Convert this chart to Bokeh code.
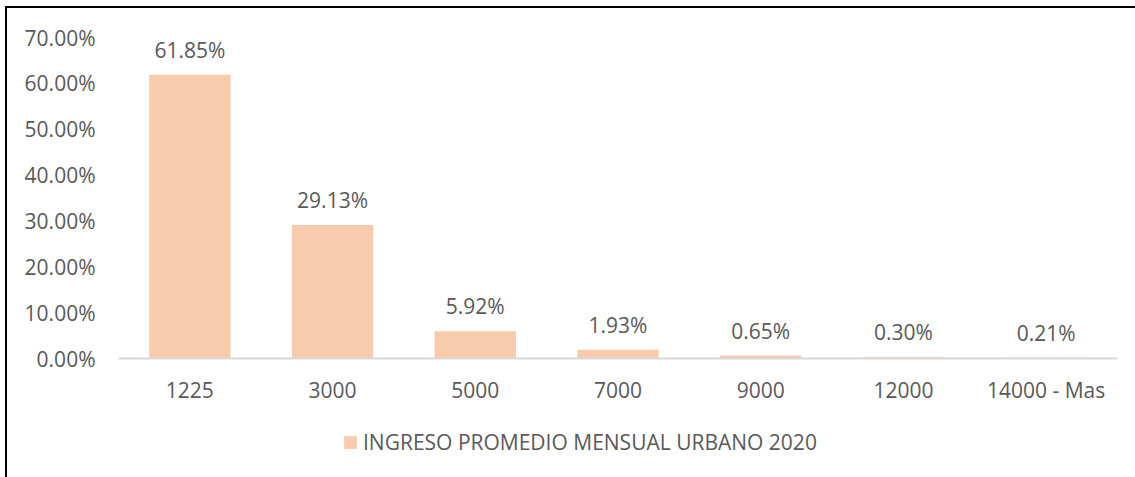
from bokeh.plotting import figure
from bokeh.models import (ColumnDataSource, Range1d, FactorRange, LabelSet, Legend, LegendItem,
                          PrintfTickFormatter, FixedTicker)
from bokeh.core.properties import value
from bokeh.embed import file_html
from bokeh.resources import INLINE

categories = ["1225", "3000", "5000", "7000", "9000", "12000", "14000 - Mas"]
values = [61.85, 29.13, 5.92, 1.93, 0.65, 0.30, 0.21]
series_name = "INGRESO PROMEDIO MENSUAL URBANO 2020"
y_ticks = [0, 10, 20, 30, 40, 50, 60, 70]

FONT = "Open Sans"
FS = "21px"
TXT = "#595959"
BAR = "#F8CBAD"

W, H = 1135, 477
TOP, ZERO, BOTTOM = 37, 358, 464   # frame top, y=0 line, frame bottom (px)
y_max = 70
y_min = -(BOTTOM - ZERO) * y_max / (ZERO - TOP)

src = ColumnDataSource(dict(cat=categories, val=values,
                            lab=[f"{v:.2f}%" for v in values]))

p = figure(width=W, height=H, output_backend="svg", toolbar_location=None,
           x_range=FactorRange(*categories, range_padding=0), y_range=Range1d(y_min, y_max),
           min_border_left=118, min_border_right=W - 1117, min_border_top=TOP,
           min_border_bottom=H - BOTTOM)
p.border_fill_color = None
p.background_fill_color = None
p.styles = {"background": "linear-gradient(#000,#000) 5px 6px / 100% 2px no-repeat, "
                          "linear-gradient(#000,#000) 5px 6px / 2px 100% no-repeat, #fff"}
p.outline_line_color = None
p.xgrid.grid_line_color = None
p.ygrid.grid_line_color = None

r = p.vbar(x="cat", top="val", width=0.57, source=src, fill_color=BAR, line_color=None)

labels = LabelSet(x="cat", y="val", text="lab", source=src, text_align="center",
                  text_baseline="bottom", y_offset=11, text_font=value(FONT),
                  text_font_size=FS, text_color=TXT)
p.add_layout(labels)

xa = p.xaxis[0]
xa.fixed_location = 0
xa.axis_line_color = "#D9D9D9"
xa.axis_line_width = 2
xa.major_tick_line_color = None
xa.minor_tick_line_color = None
xa.major_label_text_font = FONT
xa.major_label_text_font_size = FS
xa.major_label_text_color = TXT
xa.major_label_standoff = 11

ya = p.yaxis[0]
ya.axis_line_color = None
ya.major_tick_line_color = None
ya.minor_tick_line_color = None
ya.ticker = FixedTicker(ticks=y_ticks)
ya.formatter = PrintfTickFormatter(format="%.2f%%")
ya.major_label_text_font = FONT
ya.major_label_text_font_size = FS
ya.major_label_text_color = TXT
ya.major_label_standoff = 17

legend = Legend(items=[LegendItem(label=series_name, renderers=[r])],
                orientation="horizontal", location=(224, 8),
                label_text_font=FONT, label_text_font_size=FS, label_text_color=TXT,
                glyph_width=16, glyph_height=16, label_standoff=5,
                border_line_color=None, background_fill_alpha=0, margin=0, padding=0)
p.add_layout(legend)

open("out.html", "w").write(file_html(p, INLINE))
